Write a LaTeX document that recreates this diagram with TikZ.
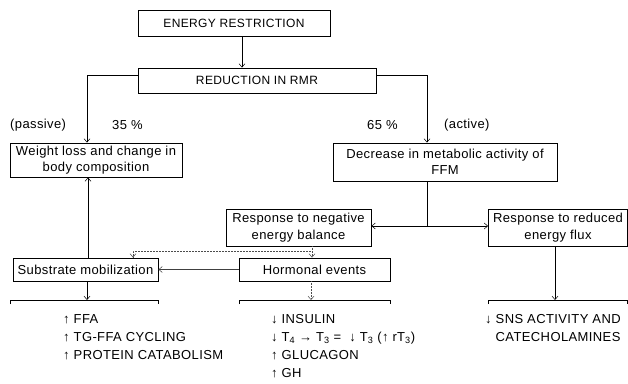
\documentclass[tikz,border=0pt]{standalone}
\usepackage{fontspec}
\setmainfont{Liberation Sans}[LetterSpace=3]
\usetikzlibrary{arrows.meta,calc}
\begin{document}
\begin{tikzpicture}[x=1pt,y=-1pt,
  box/.style={draw, line width=0.9pt, inner sep=0pt, align=center, font=\fontsize{13}{16.5}\selectfont},
  capbox/.style={box, font=\fontsize{12}{15}\selectfont},
  arr/.style={-{Straight Barb[length=3.5pt,width=6pt]}, line width=0.5pt},
  dotarr/.style={arr, densely dotted, black!70},
  ln/.style={line width=0.5pt},
  brk/.style={line width=0.9pt},
  lbl/.style={font=\fontsize{13}{15}\selectfont, inner sep=0pt},
  lst/.style={inner sep=0pt, anchor=north west, align=left, font=\fontsize{13}{18}\selectfont}]
\useasboundingbox (0,0) rectangle (628,383);
% boxes
\node[capbox, minimum width=192pt, minimum height=26pt] (ER) at (234,23) {ENERGY RESTRICTION};
\node[capbox, minimum width=238pt, minimum height=25pt] (RMR) at (257,80.5) {REDUCTION IN RMR};
\node[box, minimum width=172pt, minimum height=34pt] (W) at (96,160) {Weight loss and change in\\body composition};
\node[box, minimum width=224pt, minimum height=38pt] (D) at (445,162) {Decrease in metabolic activity of\\FFM};
\node[box, minimum width=145pt, minimum height=37pt] (N) at (298.5,227.5) {Response to negative\\energy balance};
\node[box, minimum width=139pt, minimum height=37pt] (R) at (558,227.5) {Response to reduced\\energy flux};
\node[box, minimum width=145pt, minimum height=23pt] (S) at (85.5,269.5) {Substrate mobilization};
\node[box, minimum width=151pt, minimum height=23pt] (H) at (314.5,269.5) {Hormonal events};
% labels
\node[lbl, anchor=west] (pas) at (10,125) {(passive)};
\node[lbl, anchor=west] (p35) at (112,125) {35 \%};
\node[lbl, anchor=west] (p65) at (367,125) {65 \%};
\node[lbl, anchor=west] (act) at (444,125) {(active)};
% coordinates
\coordinate (j) at (427,226);
\coordinate (k) at (312,251);
\coordinate (b1) at (87,300);
\coordinate (b2) at (311,300);
\coordinate (b3) at (555,300);
% connectors
\draw[arr] ([xshift=8pt]ER.south) -- ([xshift=8pt]ER.south |- RMR.north);
\draw[arr] ([yshift=5.5pt]RMR.west) -| ([xshift=-9pt]W.north);
\draw[arr] ([yshift=5.5pt]RMR.east) -| ([xshift=-18pt]D.north);
\draw[ln] (D.south -| j) -- (j);
\draw[arr] (j) -- (j -| N.east);
\draw[arr] (j) -- (j -| R.west);
\draw[dotarr] ([xshift=13.5pt]N.south) -- (k |- H.north);
\draw[dotarr] (k) -| ([xshift=47.5pt]S.north);
\draw[arr, black!75] (H.west) -- (S.east);
\draw[arr] ([xshift=2.5pt]S.north) -- ([xshift=2.5pt]S.north |- W.south);
\draw[arr] (S.south -| b1) -- (b1);
\draw[dotarr] (H.south -| b2) -- (b2);
\draw[arr] (R.south -| b3) -- (b3);
% brackets
\draw[brk] (10,304) -- (10,300) -- (158,300) -- (158,304);
\draw[brk] (239,304) -- (239,300) -- (390,300) -- (390,304);
\draw[brk] (488,304) -- (488,300) -- (627,300) -- (627,304);
% lists
\node[lst] (L1) at (63,314) {↑ FFA\\↑ TG-FFA CYCLING\\↑ PROTEIN CATABOLISM};
\node[lst] (L2) at (271,314) {↓ INSULIN\\↓ T\textsubscript{4} → T\textsubscript{3} = \ ↓ T\textsubscript{3} (↑ rT\textsubscript{3})\\↑ GLUCAGON\\↑ GH};
\node[lst] (L3) at (485,314) {↓ SNS ACTIVITY AND\\\phantom{↓ }CATECHOLAMINES};
\end{tikzpicture}
\end{document}
